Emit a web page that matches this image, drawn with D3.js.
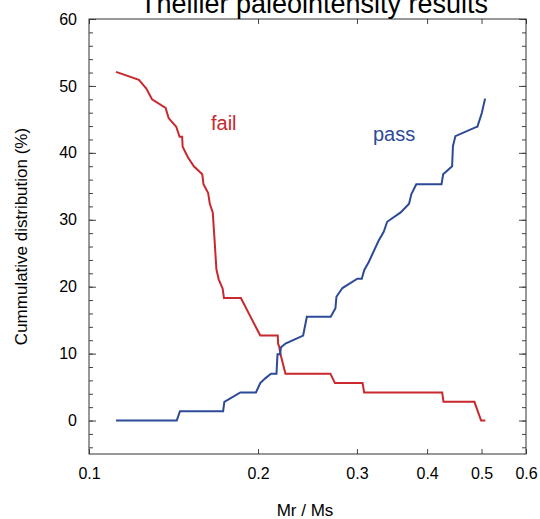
<!DOCTYPE html>
<html>
<head>
<meta charset="utf-8">
<script src="https://cdn.jsdelivr.net/npm/d3@7"></script>
<style>
  body { margin: 0; background: #fff; }
  svg { display: block; font-family: "Liberation Sans", Arial, Helvetica, sans-serif; }
  .axis path { display: none; }
  .axis line { stroke: #444; }
  .axis text { font-size: 16px; fill: #000; }
</style>
</head>
<body>
<svg id="chart" width="540" height="519"></svg>
<script>
// Mr/Ms values and cumulative percentages
let failX = [0.1117, 0.1227, 0.1265, 0.1295, 0.1369, 0.1386, 0.1430, 0.1450, 0.1465, 0.1468,
  0.1501, 0.1537, 0.1591, 0.1599, 0.1630, 0.1641, 0.1661, 0.1673, 0.1686, 0.1702,
  0.1730, 0.1739, 0.1864, 0.2018, 0.2168, 0.2172, 0.2181, 0.2190, 0.2238, 0.2691,
  0.2741, 0.3070, 0.3090, 0.4255, 0.4278, 0.4856, 0.4991, 0.5079];
let failY = [52.1, 50.9, 49.6, 48.0, 46.7, 45.2, 43.9, 42.4, 42.4, 40.9,
  39.3, 38.0, 36.8, 35.3, 34.0, 32.4, 31.1, 27.1, 22.6, 21.1,
  19.7, 18.3, 18.3, 12.7, 12.7, 11.4, 11.1, 10.1, 7.0, 7.0,
  5.6, 5.6, 4.2, 4.2, 2.8, 2.8, 0, 0];

let passX = [0.1117, 0.1433, 0.1452, 0.1733, 0.1742, 0.1860, 0.1983, 0.2018, 0.2060, 0.2109,
  0.2157, 0.2166, 0.2190, 0.2196, 0.2238, 0.2406, 0.2443, 0.2694, 0.2747, 0.2758,
  0.2827, 0.3005, 0.3060, 0.3092, 0.3149, 0.3280, 0.3348, 0.3396, 0.3589, 0.3715,
  0.3749, 0.3826, 0.4243, 0.4272, 0.4432, 0.4447, 0.4492, 0.4876, 0.4916, 0.5007, 0.5073];
let passY = [0, 0, 1.4, 1.4, 2.8, 4.2, 4.2, 5.6, 6.3, 7.0,
  7.0, 9.9, 9.9, 10.9, 11.5, 12.7, 15.5, 15.5, 16.8, 18.5,
  19.8, 21.2, 21.2, 22.5, 23.7, 26.9, 28.2, 29.7, 31.1, 32.4,
  33.8, 35.3, 35.3, 36.8, 38.0, 41.0, 42.5, 43.8, 43.9, 46.0, 48.1];

let xTicks = [0.1, 0.2, 0.3, 0.4, 0.5, 0.6];
let yTicks = [0, 10, 20, 30, 40, 50, 60];

let svg = d3.select("#chart");
let mLeft = 89, mRight = 526, mTop = 19, mBottom = 454;

let x = d3.scaleLog().domain([0.1, 0.6]).range([mLeft, mRight]);
let y = d3.scaleLinear().domain([-5, 60]).range([mBottom, mTop]);

let minorY = d3.range(-4, 61, 2);

// ticks, all pointing inward
svg.append("g").attr("class", "axis")
    .attr("transform", "translate(" + mLeft + ",0)")
    .call(d3.axisLeft(y).tickValues(minorY).tickSize(-4).tickFormat(""));
svg.append("g").attr("class", "axis")
    .attr("transform", "translate(" + mRight + ",0)")
    .call(d3.axisRight(y).tickValues(minorY).tickSize(-4).tickFormat(""));
svg.append("g").attr("class", "axis")
    .attr("transform", "translate(" + mRight + ",0)")
    .call(d3.axisRight(y).tickValues(yTicks).tickSize(-7).tickFormat(""));
svg.append("g").attr("class", "axis")
    .attr("transform", "translate(" + mLeft + ",0)")
    .call(d3.axisLeft(y).tickValues(yTicks).tickSize(-7).tickPadding(12).tickFormat(d3.format("d")));

svg.append("g").attr("class", "axis")
    .attr("transform", "translate(0," + mBottom + ")")
    .call(d3.axisBottom(x).tickValues(xTicks).tickSize(-5).tickPadding(14).tickFormat(d3.format(".1f")));
svg.append("g").attr("class", "axis")
    .attr("transform", "translate(0," + mTop + ")")
    .call(d3.axisTop(x).tickValues(xTicks).tickSize(-5).tickFormat(""));

svg.append("rect")
    .attr("x", mLeft).attr("y", mTop)
    .attr("width", mRight - mLeft).attr("height", mBottom - mTop)
    .attr("fill", "none").attr("stroke", "#333").attr("stroke-width", 1);

let line = d3.line()
    .x(function(d) { return x(d[0]); })
    .y(function(d) { return y(d[1]); });

svg.append("path")
    .datum(d3.zip(failX, failY))
    .attr("d", line)
    .attr("fill", "none").attr("stroke", "#c8282e").attr("stroke-width", 2);

svg.append("path")
    .datum(d3.zip(passX, passY))
    .attr("d", line)
    .attr("fill", "none").attr("stroke", "#2d4a98").attr("stroke-width", 2);

svg.append("text")
    .attr("x", 211).attr("y", 130)
    .attr("font-size", 20).attr("fill", "#c8282e")
    .text("fail");
svg.append("text")
    .attr("x", 373).attr("y", 141)
    .attr("font-size", 20).attr("fill", "#2d4a98")
    .text("pass");

svg.append("text")
    .attr("x", 314).attr("y", 12.5)
    .attr("text-anchor", "middle").attr("font-size", 27).attr("fill", "#000")
    .text("Thellier paleointensity results");

svg.append("text")
    .attr("x", 305).attr("y", 516)
    .attr("text-anchor", "middle").attr("font-size", 17).attr("fill", "#000")
    .text("Mr / Ms");

svg.append("text")
    .attr("transform", "translate(27," + (mTop + mBottom) / 2 + ") rotate(-90)")
    .attr("text-anchor", "middle").attr("font-size", 17).attr("fill", "#000")
    .text("Cummulative distribution (%)");
</script>
</body>
</html>
